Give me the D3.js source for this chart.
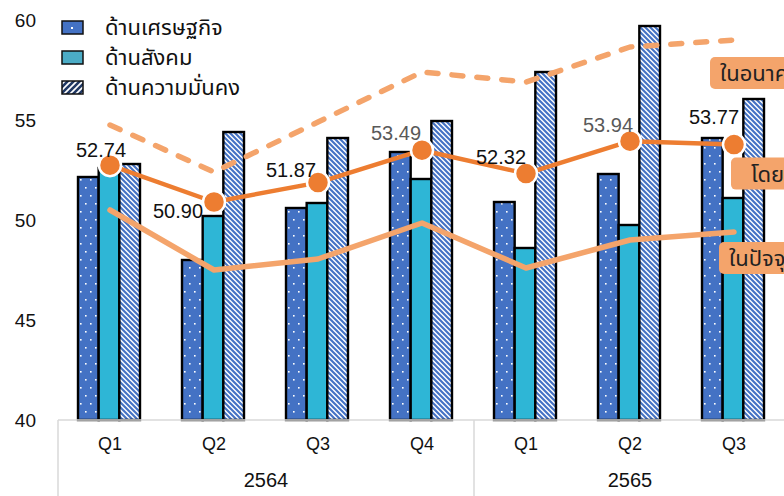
<!DOCTYPE html>
<html lang="th">
<head>
<meta charset="UTF-8">
<title>ดัชนี</title>
<script src="https://d3js.org/d3.v7.min.js"></script>
<style>
  body { margin: 0; background: #fff; }
  svg { display: block; font-family: "Liberation Sans", "Noto Sans", sans-serif; }
  .thai { font-family: "Noto Sans Thai", "Tahoma", "Leelawadee UI", "Noto Sans", sans-serif; }
</style>
</head>
<body>
<svg width="784" height="496"></svg>
<script>
  // quarters and their year groups
  const quarters = ["Q1", "Q2", "Q3", "Q4", "Q1", "Q2", "Q3"];
  const years = [
    { label: "2564", from: 0, to: 3 },
    { label: "2565", from: 4, to: 6 }
  ];

  // bar series
  const barNames = ["ด้านเศรษฐกิจ", "ด้านสังคม", "ด้านความมั่นคง"];
  const economy = [52.15, 48.0, 50.6, 53.4, 50.9, 52.3, 54.1];
  const society = [52.6, 50.2, 50.85, 52.05, 48.6, 49.75, 51.1];
  const security = [52.8, 54.4, 54.1, 54.95, 57.4, 59.7, 56.05];

  // line series
  const overall = [52.74, 50.90, 51.87, 53.49, 52.32, 53.94, 53.77];
  const future = [54.75, 52.4, 54.9, 57.4, 56.9, 58.65, 59.0];
  const current = [50.5, 47.5, 48.05, 49.85, 47.6, 49.0, 49.4];
  const lineNames = { future: "ในอนาคต", overall: "โดยรวม", current: "ในปัจจุบัน" };

  const yTicks = [40, 45, 50, 55, 60];

  // hand placed label offsets (px from the marker), like the original
  const labelOffsets = [[-9, -8], [-36, 16], [-27, -6], [-26, -10], [-25, -10], [-22, -9], [-20, -21]];
  const labelColors = ["#111", "#111", "#111", "#595959", "#111", "#595959", "#111"];

  const svg = d3.select("svg");
  const defs = svg.append("defs");

  // dotted blue fill
  const dots = defs.append("pattern").attr("id", "dots")
    .attr("patternUnits", "userSpaceOnUse").attr("width", 10).attr("height", 16);
  dots.append("rect").attr("width", 10).attr("height", 16).attr("fill", "#4472C4");
  dots.append("rect").attr("x", 2).attr("y", 3).attr("width", 1.6).attr("height", 1.6).attr("fill", "#fff");
  dots.append("rect").attr("x", 7).attr("y", 11).attr("width", 1.6).attr("height", 1.6).attr("fill", "#fff");

  // diagonal hatch
  const hatch = defs.append("pattern").attr("id", "hatch")
    .attr("patternUnits", "userSpaceOnUse").attr("width", 5).attr("height", 5);
  hatch.append("rect").attr("width", 5).attr("height", 5).attr("fill", "#fff");
  hatch.append("path").attr("d", "M0,0L5,5M-1,4L1,6M4,-1L6,1")
    .attr("stroke", "#4472C4").attr("stroke-width", 2.1);

  const hatchLeg = defs.append("pattern").attr("id", "hatchLeg")
    .attr("patternUnits", "userSpaceOnUse").attr("width", 6).attr("height", 6);
  hatchLeg.append("rect").attr("width", 6).attr("height", 6).attr("fill", "#fff");
  hatchLeg.append("path").attr("d", "M0,6L6,0M-1.5,1.5L1.5,-1.5M4.5,7.5L7.5,4.5")
    .attr("stroke", "#203864").attr("stroke-width", 2.6);

  const x0 = d3.scaleBand().domain(d3.range(quarters.length)).range([58, 786]);
  const x1 = d3.scaleBand().domain(d3.range(3)).range([20, 82]);
  const y = d3.scaleLinear().domain([40, 60]).range([420, 20]);
  const cx = i => x0(i) + x0.bandwidth() / 2;

  // y axis labels
  const yAxis = svg.append("g").attr("transform", "translate(58,0)")
    .call(d3.axisLeft(y).tickValues(yTicks).tickSize(0).tickPadding(22));
  yAxis.select(".domain").remove();
  yAxis.selectAll("text").attr("font-size", 19).attr("fill", "#111")
    .attr("font-family", "Liberation Sans, sans-serif");

  // bars
  const barFills = ["url(#dots)", "#2EB6D6", "url(#hatch)"];
  const barSeries = [economy, society, security];
  const groups = svg.append("g").selectAll("g").data(quarters).join("g")
    .attr("transform", (d, i) => `translate(${x0(i)},0)`);
  groups.selectAll("rect")
    .data((d, i) => barSeries.map((s, k) => ({ k, v: s[i] })))
    .join("rect")
    .attr("x", d => x1(d.k))
    .attr("width", x1.bandwidth())
    .attr("y", d => y(d.v))
    .attr("height", d => y(40) - y(d.v))
    .attr("fill", d => barFills[d.k])
    .attr("stroke", "#000")
    .attr("stroke-width", 2.4);

  // category axis
  const axisG = svg.append("g").attr("transform", "translate(0,420)");
  axisG.append("line").attr("x1", 58).attr("x2", 786).attr("stroke", "#D9D9D9").attr("stroke-width", 1.5);
  [0, 4, 7].forEach(i => {
    const xx = i < quarters.length ? x0(i) : x0.range()[1];
    axisG.append("line").attr("x1", xx).attr("x2", xx).attr("y1", 0).attr("y2", 76)
      .attr("stroke", "#D9D9D9").attr("stroke-width", 1.5);
  });
  axisG.selectAll("text.q").data(quarters).join("text").attr("class", "q")
    .attr("x", (d, i) => cx(i)).attr("y", 30)
    .attr("text-anchor", "middle").attr("font-size", 18).attr("fill", "#111")
    .text(d => d);
  axisG.selectAll("text.yr").data(years).join("text").attr("class", "yr")
    .attr("x", d => (x0(d.from) + x0(d.to) + x0.bandwidth()) / 2).attr("y", 67)
    .attr("text-anchor", "middle").attr("font-size", 20).attr("fill", "#111")
    .text(d => d.label);

  // lines
  const line = d3.line().x((d, i) => cx(i)).y(d => y(d));
  svg.append("path").datum(future).attr("d", line)
    .attr("fill", "none").attr("stroke", "#F4A46B").attr("stroke-width", 5.5)
    .attr("stroke-dasharray", "11 14").attr("stroke-linecap", "round").attr("stroke-linejoin", "round");
  svg.append("path").datum(current).attr("d", line)
    .attr("fill", "none").attr("stroke", "#F4A46B").attr("stroke-width", 5.5)
    .attr("stroke-linecap", "round").attr("stroke-linejoin", "round");
  svg.append("path").datum(overall).attr("d", line)
    .attr("fill", "none").attr("stroke", "#ED7D31").attr("stroke-width", 4.5)
    .attr("stroke-linejoin", "round");
  svg.append("g").selectAll("circle").data(overall).join("circle")
    .attr("cx", (d, i) => cx(i)).attr("cy", d => y(d)).attr("r", 11)
    .attr("fill", "#ED7D31").attr("stroke", "#fff").attr("stroke-width", 2.5);

  // value labels
  svg.append("g").selectAll("text").data(overall).join("text")
    .attr("x", (d, i) => cx(i) + labelOffsets[i][0])
    .attr("y", (d, i) => y(d) + labelOffsets[i][1])
    .attr("text-anchor", "middle").attr("font-size", 20)
    .attr("fill", (d, i) => labelColors[i])
    .text(d => d.toFixed(2));

  // series name tags next to the last points (run off the right edge, as in the original)
  const last = quarters.length - 1;
  const tags = [
    { name: lineNames.future, v: future[last], dx: -24, dy: 17 },
    { name: lineNames.overall, v: overall[last], dx: -3, dy: 13 },
    { name: lineNames.current, v: current[last], dx: -15, dy: 10 }
  ];
  const tagG = svg.append("g").selectAll("g").data(tags).join("g")
    .attr("transform", d => `translate(${cx(last) + d.dx},${y(d.v) + d.dy})`);
  tagG.append("rect").attr("width", 140).attr("height", 32).attr("rx", 5)
    .attr("fill", "#F4A46B");
  tagG.append("text").attr("class", "thai")
    .attr("x", d => d.name === lineNames.overall ? 20 : 10).attr("y", 24)
    .attr("font-size", 22).attr("fill", "#222")
    .text(d => d.name);

  // legend
  const legFills = ["#4472C4", "#4BACC6", "url(#hatchLeg)"];
  const leg = svg.append("g").selectAll("g").data(barNames).join("g")
    .attr("transform", (d, i) => `translate(62,${21 + i * 30})`);
  leg.append("rect").attr("width", 21).attr("height", 13)
    .attr("fill", (d, i) => legFills[i]).attr("stroke", "#111").attr("stroke-width", 1.5);
  leg.filter((d, i) => i === 0).append("rect")
    .attr("x", 9).attr("y", 6).attr("width", 2).attr("height", 2).attr("fill", "#fff");
  leg.append("text").attr("class", "thai")
    .attr("x", 43).attr("y", 14).attr("font-size", 22).attr("fill", "#111")
    .text(d => d);
</script>
</body>
</html>
